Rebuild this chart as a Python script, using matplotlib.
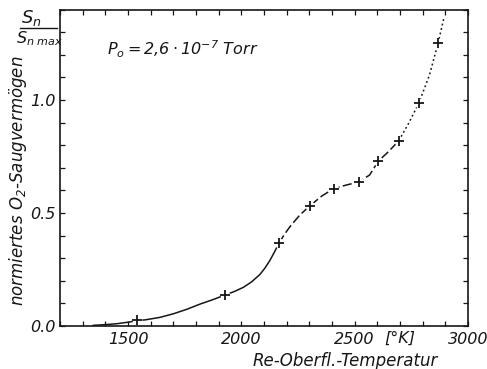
import numpy as np
import matplotlib
matplotlib.use("Agg")
import matplotlib.pyplot as plt
from matplotlib.lines import Line2D
from matplotlib.ticker import MultipleLocator, FixedLocator

plt.rcParams['font.family'] = ['DejaVu Sans']
plt.rcParams['font.style'] = 'italic'
plt.rcParams['mathtext.fontset'] = 'custom'
plt.rcParams['mathtext.rm'] = 'DejaVu Sans:italic'
plt.rcParams['mathtext.it'] = 'DejaVu Sans:italic'

ink = "#161616"

# measured points (crosses)
meas_T = [1538, 1928, 2166, 2303, 2408, 2518, 2604, 2695, 2784, 2868]
meas_S = [0.027, 0.137, 0.366, 0.532, 0.608, 0.637, 0.729, 0.820, 0.988, 1.251]

# hand-drawn curve
curve_T = [1347, 1400, 1450, 1509, 1538, 1575, 1640, 1700, 1760, 1818, 1870,
           1928, 1970, 2009, 2045, 2082, 2104, 2126, 2146, 2166, 2190, 2215, 2259,
           2303, 2355, 2408, 2465, 2518, 2566, 2604, 2650, 2695, 2740, 2784, 2830,
           2868, 2893]
curve_S = [0.003, 0.006, 0.010, 0.018, 0.024, 0.027, 0.038, 0.054, 0.074, 0.097, 0.115,
           0.137, 0.153, 0.171, 0.195, 0.228, 0.256, 0.290, 0.327, 0.366, 0.405, 0.440, 0.492,
           0.532, 0.575, 0.608, 0.624, 0.637, 0.668, 0.729, 0.772, 0.820, 0.900, 0.988, 1.110,
           1.251, 1.360]

x_major = [1500, 2000, 2500, 3000]
x_labels = ["1500", "2000", "2500", "3000"]
y_major = [0.0, 0.5, 1.0]
y_labels = ["0.0", "0.5", "1.0"]

fig = plt.figure(figsize=(4.87, 3.69), dpi=100)
ax = fig.add_axes([60/487, 1-326/369, 408/487, 316.5/369])

ct = np.array(curve_T)
cs = np.array(curve_S)
solid = ct <= 2166
dashed = (ct >= 2166) & (ct <= 2695)
dotted = ct >= 2695
ax.plot(ct[solid], cs[solid], color=ink, lw=1.1, zorder=2)
ax.plot(ct[dashed], cs[dashed], color=ink, lw=1.1, dashes=(6, 2.2), zorder=2)
ax.plot(ct[dotted], cs[dotted], color=ink, lw=1.1, dashes=(1.2, 1.8), zorder=2)

# white halo leaves the small gaps round each cross
ax.plot(meas_T, meas_S, ls='none', marker='o', ms=7, mfc='white', mec='none', zorder=2.2)
ax.plot(meas_T, meas_S, ls='none', marker='+', ms=6.5, mew=1.3, color=ink, zorder=4)

ax.set_xlim(1200, 3000)
ax.set_ylim(0, 1.40)
ax.xaxis.set_major_locator(FixedLocator(x_major))
ax.set_xticklabels(x_labels)
ax.xaxis.set_minor_locator(MultipleLocator(100))
ax.yaxis.set_major_locator(FixedLocator(y_major))
ax.set_yticklabels(y_labels)
ax.yaxis.set_minor_locator(MultipleLocator(0.1))
ax.tick_params(which='both', direction='in', top=True, right=True, length=3.5,
               width=0.9, color=ink, labelcolor=ink, labelsize=11.5, pad=4)
ax.tick_params(axis='y', which='both', pad=3)
for sp in ax.spines.values():
    sp.set_linewidth(1.2)
    sp.set_color(ink)

ax.text(2700, -0.02, "[°K]", transform=ax.transData, ha='center', va='top',
        fontsize=11.5, color=ink)

ax.set_xlabel("Re-Oberfl.-Temperatur", fontsize=12, color=ink)
ax.xaxis.set_label_coords(0.70, -0.082)
ax.xaxis.label.set_va('top')

ax.set_ylabel(r"normiertes O$_2$-Saugvermögen", fontsize=12, color=ink)
ax.yaxis.set_label_coords(-0.103, 0.46)
ax.yaxis.label.set_va('center')

ax.text(0.115, 0.875, r"$P_o = 2{,}6\cdot10^{-7}$ Torr", transform=ax.transAxes,
        fontsize=11.5, color=ink, va='center')

# fraction S_n / S_n max in the upper left corner
fig.text(31/487, 1-18/369, r"$S_n$", ha='center', va='center', fontsize=13, color=ink)
fig.add_artist(Line2D([20/487, 57/487], [1-28/369, 1-28/369], color=ink, lw=1.0))
fig.text(40/487, 1-39/369, r"$S_{n\ max}$", ha='center', va='center', fontsize=11.5, color=ink)

fig.savefig("out.png", dpi=100)
